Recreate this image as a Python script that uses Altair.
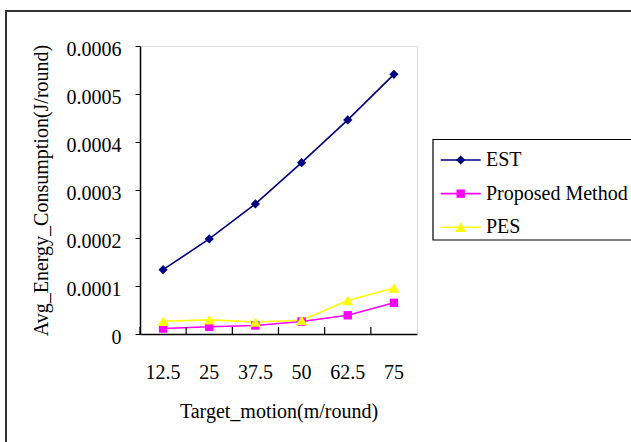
import altair as alt
import pandas as pd

motion = ["12.5", "25", "37.5", "50", "62.5", "75"]
series = ["EST", "Proposed Method", "PES"]
est = [0.000134, 0.000198, 0.000271, 0.000357, 0.000446, 0.000541]
proposed = [0.0000114, 0.000015, 0.0000177, 0.000026, 0.000039, 0.000065]
pes = [0.0000266, 0.0000295, 0.000025, 0.0000287, 0.00007, 0.000096]
colors = ["#000080", "#FF00FF", "#FFFF00"]
marker_shapes = ["diamond", "square", "triangle-up"]
marker_sizes = [85, 70, 120]
y_ticks = [0, 0.0001, 0.0002, 0.0003, 0.0004, 0.0005, 0.0006]

rows = []
for name, vals in zip(series, [est, proposed, pes]):
    for m, v in zip(motion, vals):
        rows.append({"motion": m, "series": name, "energy": v})
df = pd.DataFrame(rows)
cat_df = pd.DataFrame({"motion": motion})
leg_df = pd.DataFrame({"series": series})

FONT = "Liberation Serif"
W, H = 277, 288
LEFT, TOP = 140, 46

xscale = alt.Scale(type="band", domain=motion, paddingInner=0, paddingOuter=0)
yscale = alt.Scale(domain=[0, 0.0006], nice=False, zero=True)
color_scale = alt.Scale(domain=series, range=colors)

main_x_axis = alt.Axis(
    title="Target_motion(m/round)", orient="bottom", ticks=False, tickSize=0,
    domainColor="black", domainWidth=1.5, labelAngle=0, labelBaseline="middle",
    labelPadding=38, labelFont=FONT, labelFontSize=20, labelColor="black",
    titleFont=FONT, titleFontSize=20, titleFontWeight="normal", titleColor="black",
    titleY=77, titleBaseline="middle", grid=False,
)
y_axis = alt.Axis(
    values=y_ticks, labelExpr="datum.value == 0 ? '0' : format(datum.value, '.4f')",
    title="Avg_Energy_Consumption(J/round)", tickSize=5, tickColor="black",
    domainColor="black", domainWidth=1.5, grid=False, labelFont=FONT, labelFontSize=20,
    labelColor="black", labelPadding=14, labelOffset=3, titleFont=FONT, titleFontSize=20,
    titleFontWeight="normal", titleColor="black", titleX=-99, titleY=H / 2,
    titleAlign="center", titleBaseline="middle", titleAngle=270,
)

base = alt.Chart(df)
X = alt.X("motion:N", scale=xscale, axis=main_x_axis, bandPosition=0.5, sort=motion)
Y = alt.Y("energy:Q", scale=yscale, axis=y_axis)

lines = base.mark_line(strokeWidth=1.6).encode(
    x=X, y=Y,
    color=alt.Color("series:N", scale=color_scale, legend=None),
    detail="series:N",
)

point_layers = []
for name, col, shp, sz in zip(series, colors, marker_shapes, marker_sizes):
    point_layers.append(
        base.transform_filter(alt.datum.series == name)
        .mark_point(filled=True, shape=shp, size=sz, color=col, opacity=1)
        .encode(x=X, y=Y)
    )

# inward category tick marks at band boundaries
ticks = alt.Chart(cat_df).mark_rule(color="black", strokeWidth=1.2).encode(
    x=alt.X("motion:N", scale=xscale, axis=main_x_axis, bandPosition=0, sort=motion),
    y=alt.value(H), y2=alt.value(H - 7),
)

data_layer = alt.layer(lines, *point_layers, ticks)

# ---- legend box (drawn from the series list) ----
LEG_LEFT, LEG_TOP, LEG_BOTTOM = 433 - LEFT, 139.5 - TOP, 240 - TOP
row_y = alt.Y(
    "series:N",
    scale=alt.Scale(type="point", domain=series, range=[160 - TOP, 227.3 - TOP], padding=0),
    axis=None,
)
leg_base = alt.Chart(leg_df)
leg_box = leg_base.transform_filter(alt.datum.series == series[0]).mark_rect(
    fill="white", stroke="black", strokeWidth=1.2
).encode(
    x=alt.value(LEG_LEFT), x2=alt.value(700), y=alt.value(LEG_TOP), y2=alt.value(LEG_BOTTOM)
)
leg_lines = leg_base.mark_rule(strokeWidth=1.6).encode(
    x=alt.value(440.7 - LEFT), x2=alt.value(480.7 - LEFT), y=row_y,
    color=alt.Color("series:N", scale=color_scale, legend=None),
)
leg_points = []
for name, col, shp, sz in zip(series, colors, marker_shapes, marker_sizes):
    leg_points.append(
        leg_base.transform_filter(alt.datum.series == name)
        .mark_point(filled=True, shape=shp, size=sz, color=col, opacity=1)
        .encode(x=alt.value(460.7 - LEFT), y=row_y)
    )
leg_text = leg_base.mark_text(
    align="left", baseline="middle", font=FONT, fontSize=20, color="black"
).encode(x=alt.value(486 - LEFT), y=row_y, text="series:N")
legend_group = alt.layer(leg_box, leg_lines, *leg_points, leg_text)

frame = alt.Chart(pd.DataFrame({"f": [0]})).mark_rect(
    fill="transparent", stroke="#333333", strokeWidth=2
).encode(
    x=alt.value(6 - LEFT), x2=alt.value(800), y=alt.value(11 - TOP), y2=alt.value(600)
)

chart = (
    alt.layer(frame, data_layer, legend_group)
    .resolve_scale(y="independent")
    .properties(
        width=W, height=H,
        autosize=alt.AutoSizeParams(type="none"),
        padding={"left": LEFT, "top": TOP, "right": 631 - LEFT - W, "bottom": 442 - TOP - H},
        background="white",
    )
    .configure_view(stroke="#a0a0a0", strokeWidth=1)
    .configure_text(font=FONT, fontSize=20)
    .configure(font=FONT)
)

chart.save("out.html", embed_options={"renderer": "svg", "actions": False})
